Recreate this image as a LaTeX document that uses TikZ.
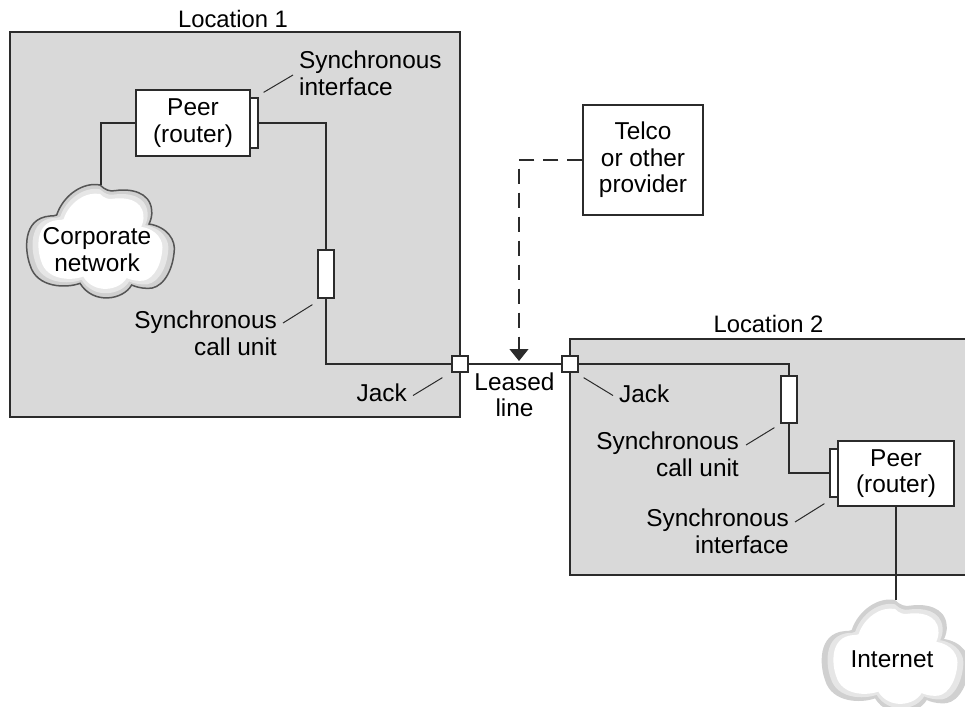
\documentclass[tikz,border=0pt]{standalone}
\usepackage{fontspec}
\setmainfont{Liberation Sans}
\usetikzlibrary{arrows.meta}
\definecolor{sitegray}{HTML}{D9D9D9}
\definecolor{rimgray}{HTML}{D0D0D0}
\definecolor{midgray}{HTML}{E6E6E6}
\definecolor{edgegray}{HTML}{555555}
\definecolor{linegray}{HTML}{2B2B2B}
\newcommand{\cloudoutline}{(0,0) .. controls (15,15) and (30,20) .. (45,17)
  .. controls (90,10) and (150,20) .. (155,75)
  .. controls (157,90) and (153,105) .. (147,117)
  .. controls (200,125) and (230,165) .. (222,205)
  .. controls (215,270) and (180,315) .. (140,310)
  .. controls (125,310) and (105,305) .. (95,300)
  .. controls (70,345) and (-20,360) .. (-60,295)
  .. controls (-100,310) and (-190,310) .. (-210,240)
  .. controls (-225,200) and (-235,100) .. (-150,93)
  .. controls (-145,93) and (-135,93) .. (-130,90)
  .. controls (-110,30) and (-50,-10) .. (0,0) -- cycle}
\tikzset{
  lbl/.style={font=\fontsize{24.4}{26.5}\selectfont, align=center, inner sep=0pt},
  loclbl/.style={lbl, font=\fontsize{23.8}{26.5}\selectfont},
  site/.style={draw=linegray, line width=1.2pt, fill=sitegray},
  box/.style={lbl, draw=linegray, line width=1.3pt, fill=white},
  wire/.style={draw=linegray, line width=1.2pt},
  leader/.style={draw=linegray, line width=1pt},
  netcloud/.pic={
    \path[pic actions, fill=rimgray, scale=1/3] \cloudoutline;
    \path[fill=midgray, shift={(0,58)}, scale=0.92/3, shift={(0,-175)}] \cloudoutline;
    \path[fill=white, shift={(0,58)}, scale=0.84/3, shift={(0,-175)}] \cloudoutline;
  }
}
\begin{document}
\begin{tikzpicture}[x=1pt, y=-1pt]
\clip (0,0) rectangle (965,706);
\fill[white] (0,0) rectangle (965,706);
\draw[site] (10,32) rectangle (460,417);
\draw[site] (570,339) rectangle (975,575);
\pic[draw=edgegray, line width=1.5pt] at (100,185) {netcloud};
\pic at (895,600) {netcloud};
\coordinate (corptop) at (101,185);
\coordinate (nettop) at (896,600);
\coordinate (linedrop) at (519,361);

\node[loclbl] (locone) at (233,18.5) {Location 1};
\node[loclbl] (loctwo) at (768.5,323.5) {Location 2};
\node[lbl] (corp) at (97,249.5) {Corporate\\network};
\node[lbl] (inet) at (892,659) {Internet};
\node[box, minimum width=114, minimum height=66] (peerone) at (193,123) {Peer\\(router)};
\node[box, minimum width=8, minimum height=50] (ifone) at (254,123) {};
\node[box, minimum width=16, minimum height=48] (unitone) at (326,274) {};
\node[box, minimum width=16, minimum height=16] (jackone) at (460,364) {};
\node[box, minimum width=16, minimum height=16] (jacktwo) at (570,364) {};
\node[box, minimum width=16, minimum height=47] (unittwo) at (789,399.5) {};
\node[box, minimum width=8, minimum height=48] (iftwo) at (834,473) {};
\node[box, minimum width=116, minimum height=65] (peertwo) at (896,473.5) {Peer\\(router)};
\node[box, minimum width=120, minimum height=110] (telco) at (643,160) {Telco\\or other\\provider};

\node[lbl, align=left, anchor=west] (ifonetxt) at (299,73.5) {Synchronous\\interface};
\node[lbl, align=right, anchor=east] (unitonetxt) at (277,333.5) {Synchronous\\call unit};
\node[lbl, anchor=east] (jackonetxt) at (407,392.5) {Jack};
\node[lbl] (leased) at (514.5,395) {Leased\\line};
\node[lbl, anchor=west] (jacktwotxt) at (619,393.5) {Jack};
\node[lbl, align=right, anchor=east] (unittwotxt) at (739,454.5) {Synchronous\\call unit};
\node[lbl, align=right, anchor=east] (iftwotxt) at (789,531.5) {Synchronous\\interface};

\draw[wire] (peerone.west) -| (corptop);
\draw[wire] (ifone.east) -| (unitone.north);
\draw[wire] (unitone.south) |- (jackone.west);
\draw[wire] (jackone.east) -- (jacktwo.west);
\draw[wire] (jacktwo.east) -| (unittwo.north);
\draw[wire] (unittwo.south) |- (iftwo.west);
\draw[wire] (peertwo.south) -- (nettop);
\draw[wire, dash pattern=on 15pt off 9pt, -{Triangle[width=19pt,length=12pt]}] (telco.west) -| (linedrop);

\draw[leader] ([shift={(5,-5)}]ifone.north east) -- ([shift={(-6,1.5)}]ifonetxt.west);
\draw[leader] ([shift={(6,-10.5)}]unitonetxt.east) -- ([shift={(-5,6)}]unitone.south west);
\draw[leader] ([shift={(6,3)}]jackonetxt.east) -- ([shift={(-9,5)}]jackone.south west);
\draw[leader] ([shift={(5,5)}]jacktwo.south east) -- ([shift={(-6,2)}]jacktwotxt.west);
\draw[leader] ([shift={(7,-9.5)}]unittwotxt.east) -- ([shift={(-6,4)}]unittwo.south west);
\draw[leader] ([shift={(6,-9.5)}]iftwotxt.east) -- ([shift={(-5,6)}]iftwo.south west);
\end{tikzpicture}
\end{document}
